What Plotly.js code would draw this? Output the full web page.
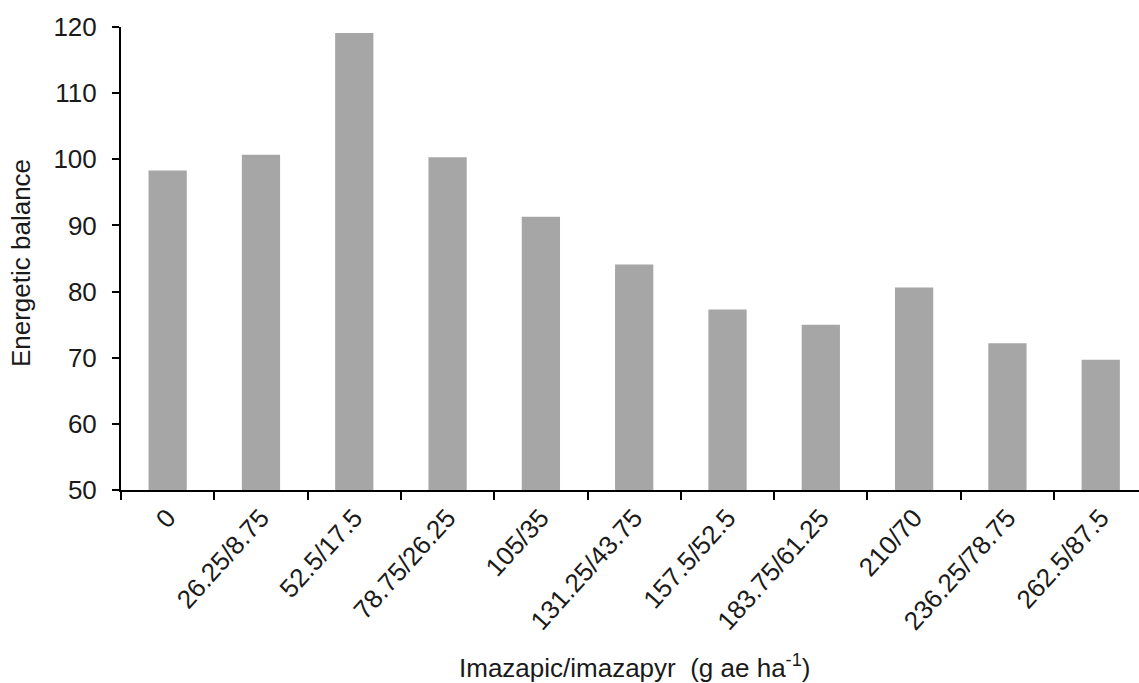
<!DOCTYPE html>
<html>
<head>
<meta charset="utf-8">
<script src="https://cdn.plot.ly/plotly-3.0.1.min.js"></script>
<style>html,body{margin:0;padding:0;background:#fff;}#chart{width:1139px;height:683px;}</style>
</head>
<body>
<div id="chart"></div>
<script>
var categories = ["0", "26.25/8.75", "52.5/17.5", "78.75/26.25", "105/35", "131.25/43.75", "157.5/52.5", "183.75/61.25", "210/70", "236.25/78.75", "262.5/87.5"];
var energeticBalance = [98.3, 100.7, 119.1, 100.3, 91.3, 84.1, 77.3, 75.0, 80.6, 72.2, 69.7];
var yTickValues = [50, 60, 70, 80, 90, 100, 110, 120];
var xTitle = "Imazapic/imazapyr&nbsp;&nbsp;(g ae ha<sup>-1</sup>)";
var yTitle = "Energetic balance";

var font = "Liberation Sans, Arial, sans-serif";
var trace = {
  type: "bar",
  x: categories,
  y: energeticBalance,
  marker: {color: "#a6a6a6", line: {width: 0}},
  hoverinfo: "x+y"
};
var layout = {
  width: 1139, height: 683,
  margin: {l: 121, r: 0, t: 27, b: 193},
  paper_bgcolor: "#fff", plot_bgcolor: "#fff",
  bargap: 0.59,
  showlegend: false,
  font: {family: font, color: "#1a1a1a", size: 24},
  xaxis: {
    type: "category",
    range: [-0.5, 10.41],
    showline: true, linecolor: "#000", linewidth: 2,
    ticks: "outside", tickson: "boundaries", ticklen: 8, tickwidth: 2, tickcolor: "#000",
    tickangle: -48,
    tickfont: {family: font, size: 26, color: "#1a1a1a"},
    showgrid: false, zeroline: false, fixedrange: true
  },
  yaxis: {
    range: [50, 120],
    tickvals: yTickValues,
    showline: true, linecolor: "#000", linewidth: 2,
    ticks: "outside", ticklen: 7, tickwidth: 2, tickcolor: "#000",
    ticklabelstandoff: 10,
    tickfont: {family: font, size: 26, color: "#1a1a1a"},
    showgrid: false, zeroline: false, fixedrange: true
  },
  annotations: [
    {text: xTitle, xref: "paper", yref: "paper", x: 0.504, y: -0.382, xanchor: "center", yanchor: "middle", showarrow: false, font: {family: font, size: 26, color: "#1a1a1a"}},
    {text: yTitle, xref: "paper", yref: "paper", x: -0.0983, y: 0.49, xanchor: "center", yanchor: "middle", textangle: -90, showarrow: false, font: {family: font, size: 26, color: "#1a1a1a"}}
  ]
};
Plotly.newPlot("chart", [trace], layout, {displayModeBar: false, staticPlot: true});
</script>
</body>
</html>
